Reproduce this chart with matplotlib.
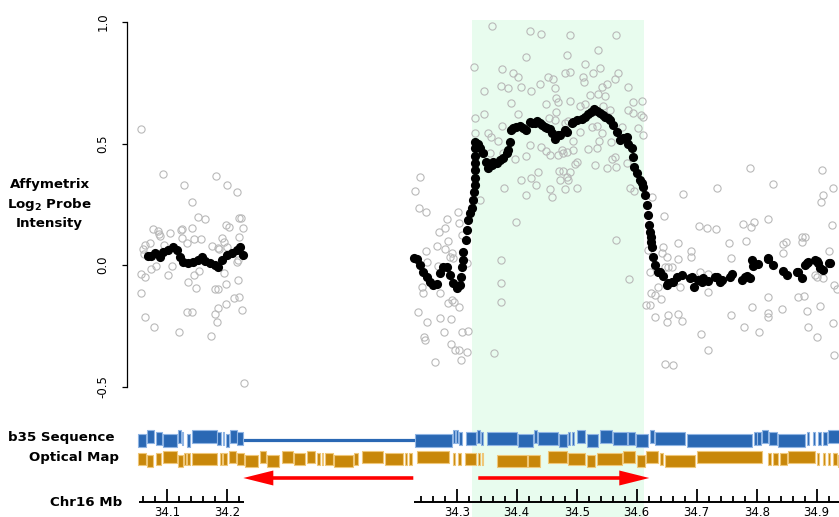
import numpy as np
import matplotlib
matplotlib.use("Agg")
import matplotlib.pyplot as plt
from matplotlib.patches import FancyArrow

plt.rcParams['font.family'] = ['DejaVu Sans']

# ---- probe data (Chr16 Mb, log2 intensity) ----
left_probes = [(34.0567, 0.56), (34.0939, 0.374), (34.128, 0.33), (34.182, 0.365), (34.2005, 0.33),
               (34.217, 0.30), (34.141, 0.26), (34.152, 0.198), (34.163, 0.188), (34.22, 0.195),
               (34.224, 0.195), (34.198, 0.165), (34.203, 0.158), (34.227, 0.154), (34.077, 0.147),
               (34.0855, 0.14), (34.087, 0.128), (34.088, 0.119), (34.105, 0.132), (34.123, 0.144),
               (34.1245, 0.148), (34.142, 0.152), (34.1255, 0.11), (34.1455, 0.106), (34.157, 0.106),
               (34.134, 0.092), (34.192, 0.112), (34.195, 0.096), (34.2205, 0.114), (34.0717, 0.089),
               (34.0633, 0.082), (34.0595, 0.065), (34.0617, 0.045), (34.0955, 0.084), (34.1745, 0.079),
               (34.1845, 0.069), (34.187, 0.066), (34.2005, 0.075), (34.0817, -0.003), (34.108, -0.004),
               (34.073, -0.018), (34.145, -0.041), (34.154, -0.023), (34.056, -0.038), (34.0633, -0.048),
               (34.102, -0.041), (34.195, -0.032), (34.217, 0.014), (34.219, 0.02), (34.1355, -0.071),
               (34.148, -0.093), (34.219, -0.062), (34.198, -0.077), (34.18, -0.099), (34.1855, -0.097),
               (34.0567, -0.114), (34.2117, -0.137), (34.22, -0.13), (34.198, -0.162), (34.1855, -0.178),
               (34.2245, -0.186), (34.134, -0.195), (34.141, -0.195), (34.18, -0.2), (34.0633, -0.213),
               (34.183, -0.236), (34.0788, -0.256), (34.12, -0.277), (34.1733, -0.293), (34.228, -0.484)]

right_probes = [(34.2388, 0.363), (34.2305, 0.305), (34.2372, 0.233), (34.2483, 0.219), (34.3027, 0.219),
                (34.2833, 0.188), (34.3043, 0.174), (34.2805, 0.151), (34.271, 0.137), (34.3083, 0.123),
                (34.285, 0.099), (34.2667, 0.078), (34.2483, 0.058), (34.2917, 0.048), (34.2888, 0.034),
                (34.2943, 0.028), (34.2805, 0.065), (34.25, 0.014), (34.2693, -0.004), (34.3167, 0.007),
                (34.2417, -0.089), (34.2443, -0.114), (34.2722, -0.117), (34.285, -0.158), (34.296, -0.151),
                (34.2917, -0.144), (34.3038, -0.172), (34.236, -0.195), (34.25, -0.233), (34.2722, -0.219),
                (34.29, -0.222), (34.3183, -0.27), (34.3083, -0.274), (34.246, -0.295), (34.2465, -0.309),
                (34.2793, -0.274), (34.2905, -0.325), (34.2972, -0.35), (34.3043, -0.35), (34.3167, -0.357),
                (34.2638, -0.398), (34.3072, -0.391),
                (34.3588, 0.984), (34.4217, 0.964), (34.441, 0.951), (34.416, 0.857), (34.3288, 0.816),
                (34.376, 0.807), (34.3938, 0.789), (34.4022, 0.772), (34.4522, 0.775), (34.4605, 0.764),
                (34.3743, 0.737), (34.3855, 0.73), (34.3455, 0.717), (34.4067, 0.734), (34.4243, 0.717),
                (34.4383, 0.745), (34.4633, 0.727), (34.466, 0.686), (34.4688, 0.67), (34.39, 0.665),
                (34.4493, 0.661), (34.466, 0.628), (34.4022, 0.62), (34.3455, 0.621), (34.33, 0.606),
                (34.4533, 0.606), (34.4633, 0.597), (34.3755, 0.572), (34.33, 0.542), (34.3522, 0.542),
                (34.3577, 0.528), (34.3688, 0.512), (34.4217, 0.494), (34.441, 0.487), (34.4493, 0.469),
                (34.455, 0.453), (34.33, 0.446), (34.355, 0.46), (34.3772, 0.46), (34.3967, 0.436),
                (34.416, 0.45), (34.4688, 0.453), (34.4355, 0.384), (34.47, 0.387), (34.4077, 0.35),
                (34.4243, 0.357), (34.4327, 0.329), (34.3788, 0.316), (34.416, 0.288), (34.455, 0.313),
                (34.4588, 0.281), (34.3383, 0.267), (34.3993, 0.178),
                (34.4888, 0.947), (34.5655, 0.947), (34.536, 0.885), (34.4833, 0.864), (34.5138, 0.826),
                (34.5388, 0.809), (34.4805, 0.789), (34.4888, 0.793), (34.5277, 0.789), (34.511, 0.775),
                (34.5127, 0.754), (34.5693, 0.791), (34.5638, 0.765), (34.5417, 0.734), (34.55, 0.744),
                (34.585, 0.734), (34.5222, 0.70), (34.536, 0.704), (34.5472, 0.695), (34.4888, 0.675),
                (34.5943, 0.67), (34.6093, 0.675), (34.5055, 0.656), (34.5138, 0.661), (34.5443, 0.656),
                (34.585, 0.638), (34.5943, 0.624), (34.6072, 0.617), (34.611, 0.61), (34.5555, 0.638),
                (34.486, 0.593), (34.4805, 0.583), (34.525, 0.569), (34.5333, 0.572), (34.575, 0.569),
                (34.6027, 0.562), (34.611, 0.535), (34.5055, 0.549), (34.5427, 0.542), (34.5377, 0.51),
                (34.4943, 0.51), (34.5572, 0.507), (34.5193, 0.476), (34.5333, 0.48), (34.475, 0.473),
                (34.4833, 0.466), (34.4777, 0.46), (34.4943, 0.473), (34.5638, 0.446), (34.5583, 0.436),
                (34.5, 0.425), (34.4972, 0.414), (34.5305, 0.412), (34.55, 0.398), (34.5655, 0.402),
                (34.5833, 0.418), (34.4777, 0.388), (34.4888, 0.384), (34.4722, 0.35), (34.486, 0.35),
                (34.4833, 0.363), (34.4805, 0.313), (34.5, 0.316), (34.5888, 0.316), (34.596, 0.305),
                (34.565, 0.103), (34.5872, -0.058), (34.3743, 0.022), (34.3743, -0.073), (34.3743, -0.151),
                (34.3617, -0.363), (34.6188, 0.062), (34.6217, -0.027), (34.6233, -0.117), (34.616, -0.165),
                (34.6217, -0.165), (34.63, -0.213),
                (34.7888, 0.398), (34.7333, 0.316), (34.6777, 0.292), (34.625, 0.279), (34.6455, 0.203),
                (34.7043, 0.162), (34.7167, 0.154), (34.7322, 0.147), (34.7767, 0.169), (34.7822, 0.099),
                (34.7543, 0.089), (34.6693, 0.092), (34.6433, 0.073), (34.6417, 0.048), (34.65, 0.034),
                (34.69, 0.059), (34.6905, 0.032), (34.6683, 0.025), (34.7572, 0.03), (34.6472, -0.007),
                (34.6527, -0.009), (34.6593, -0.009), (34.7055, -0.027), (34.7193, -0.037), (34.636, -0.092),
                (34.6722, -0.089), (34.7193, -0.112), (34.6305, -0.123), (34.64, -0.141), (34.6527, -0.206),
                (34.65, -0.233), (34.6693, -0.202), (34.675, -0.229), (34.7572, -0.206), (34.7788, -0.256),
                (34.7072, -0.285), (34.7193, -0.35), (34.6472, -0.407), (34.661, -0.412),
                (34.9093, 0.391), (34.8277, 0.333), (34.9277, 0.316), (34.911, 0.288), (34.9067, 0.26),
                (34.8193, 0.189), (34.7905, 0.158), (34.7955, 0.176), (34.925, 0.165), (34.8433, 0.086),
                (34.8488, 0.093), (34.8443, 0.051), (34.875, 0.114), (34.8805, 0.114), (34.875, 0.093),
                (34.921, 0.059), (34.8972, -0.041), (34.911, -0.055), (34.9, -0.051), (34.9293, -0.082),
                (34.9333, -0.1), (34.8183, -0.133), (34.7917, -0.172), (34.8683, -0.133), (34.8793, -0.128),
                (34.9055, -0.169), (34.8427, -0.181), (34.8833, -0.189), (34.8193, -0.199), (34.8193, -0.213),
                (34.9267, -0.237), (34.8038, -0.274), (34.885, -0.254), (34.901, -0.298), (34.9288, -0.37)]

# smoothed intensity (black)
left_smooth = [(34.0688, 0.035), (34.0728, 0.038), (34.08, 0.048), (34.0883, 0.034), (34.0938, 0.055),
               (34.1022, 0.062), (34.1095, 0.073), (34.1162, 0.062), (34.1217, 0.034), (34.1272, 0.014),
               (34.1355, 0.01), (34.1438, 0.014), (34.1522, 0.02), (34.1578, 0.034), (34.1633, 0.018),
               (34.1717, 0.01), (34.18, 0.0), (34.1855, -0.007), (34.1912, 0.02), (34.1995, 0.041),
               (34.2078, 0.048), (34.2162, 0.062), (34.2217, 0.075), (34.2272, 0.041)]

right_smooth = [(34.2288, 0.028), (34.2333, 0.023), (34.2388, 0.0), (34.2443, -0.027), (34.25, -0.048),
                (34.2555, -0.069), (34.261, -0.082), (34.2667, -0.08), (34.2722, -0.034), (34.2777, -0.01),
                (34.2833, -0.007), (34.2888, -0.041), (34.2943, -0.075), (34.3, -0.096), (34.3055, -0.082),
                (34.308, -0.048), (34.3088, -0.01), (34.3097, 0.02), (34.311, 0.055), (34.3155, 0.103),
                (34.3167, 0.144), (34.3183, 0.185), (34.3222, 0.215), (34.325, 0.233), (34.3277, 0.267),
                (34.3293, 0.30), (34.3297, 0.33), (34.3297, 0.36), (34.3297, 0.39), (34.33, 0.42),
                (34.33, 0.45), (34.3305, 0.48), (34.3308, 0.505), (34.3355, 0.50), (34.3388, 0.48),
                (34.3438, 0.46), (34.3493, 0.425), (34.3522, 0.398), (34.3583, 0.41), (34.3605, 0.425),
                (34.3667, 0.418), (34.3717, 0.432), (34.3772, 0.439), (34.3833, 0.46), (34.3855, 0.473),
                (34.3883, 0.507), (34.391, 0.556), (34.3943, 0.562), (34.3993, 0.569), (34.4055, 0.572),
                (34.4105, 0.562), (34.416, 0.555), (34.4217, 0.59), (34.425, 0.583), (34.43, 0.583),
                (34.4333, 0.594), (34.4383, 0.583), (34.4417, 0.576), (34.4467, 0.569), (34.45, 0.562),
                (34.455, 0.56), (34.4583, 0.542), (34.4633, 0.52), (34.4693, 0.535), (34.4722, 0.535),
                (34.4805, 0.556), (34.4833, 0.549), (34.4917, 0.583), (34.4943, 0.59), (34.5, 0.597),
                (34.5083, 0.60), (34.5138, 0.61), (34.5193, 0.62), (34.5238, 0.63), (34.5293, 0.64),
                (34.5338, 0.632), (34.5388, 0.624), (34.5443, 0.617), (34.5472, 0.61), (34.5527, 0.604),
                (34.5555, 0.597), (34.561, 0.576), (34.5667, 0.549), (34.5722, 0.514), (34.5777, 0.521),
                (34.5833, 0.528), (34.586, 0.50), (34.5917, 0.48), (34.5943, 0.446), (34.596, 0.405),
                (34.6, 0.377), (34.6055, 0.35), (34.6083, 0.336), (34.611, 0.322), (34.6138, 0.288),
                (34.6167, 0.247), (34.6193, 0.206), (34.621, 0.165), (34.6222, 0.137), (34.6233, 0.116),
                (34.6238, 0.096), (34.625, 0.075), (34.6277, 0.034), (34.6305, 0.0), (34.636, -0.027),
                (34.6388, -0.03), (34.6443, -0.045), (34.65, -0.082), (34.6522, -0.075), (34.6583, -0.069),
                (34.661, -0.069), (34.6667, -0.048), (34.675, -0.043), (34.6888, -0.052), (34.6917, -0.051),
                (34.6955, -0.089), (34.7027, -0.062), (34.7083, -0.069), (34.711, -0.055), (34.7193, -0.065),
                (34.7305, -0.048), (34.7343, -0.051), (34.7388, -0.069), (34.7417, -0.062), (34.7555, -0.05),
                (34.7583, -0.037), (34.775, -0.062), (34.7805, -0.048), (34.7833, -0.045), (34.7888, -0.055),
                (34.7917, 0.02), (34.7943, -0.004), (34.8027, 0.005), (34.8183, 0.027), (34.8193, 0.023),
                (34.8277, -0.002), (34.8443, -0.025), (34.85, -0.04), (34.8667, -0.027), (34.8693, -0.027),
                (34.875, -0.053), (34.8805, 0.0), (34.8833, 0.007), (34.886, 0.014), (34.8972, 0.02),
                (34.9, 0.016), (34.9027, 0.007), (34.9055, -0.014), (34.911, -0.02), (34.921, 0.007),
                (34.9222, 0.007)]

# region with gain (Chr16 Mb)
gain_region = (34.3255, 34.6117)

# b35 sequence fragments (Chr16 Mb start, end, stagger level)
b35_frags = [(34.0522, 34.0645, 2), (34.0672, 34.0783, 0), (34.0812, 34.0922, 1), (34.0928, 34.1162, 2),
             (34.1188, 34.1228, 0), (34.1245, 34.1272, 1), (34.1338, 34.1383, 2), (34.1412, 34.1828, 0),
             (34.1838, 34.1895, 1), (34.1928, 34.1955, 1), (34.1983, 34.2028, 2), (34.205, 34.2162, 0),
             (34.2172, 34.2272, 1),
             (34.2305, 34.2917, 2), (34.2943, 34.2972, 0), (34.2988, 34.3027, 0), (34.3043, 34.3083, 1),
             (34.3155, 34.3322, 1), (34.3343, 34.3388, 0), (34.34, 34.3443, 1), (34.351, 34.40, 1),
             (34.4027, 34.4277, 2), (34.4293, 34.4333, 0), (34.436, 34.4693, 1), (34.4705, 34.4833, 2),
             (34.486, 34.4888, 1), (34.4922, 34.4955, 1), (34.5, 34.5138, 0), (34.5167, 34.536, 2),
             (34.5388, 34.5583, 0), (34.561, 34.5833, 1), (34.586, 34.5972, 1), (34.5988, 34.6193, 2),
             (34.6222, 34.6288, 0), (34.6305, 34.6805, 1), (34.6833, 34.7927, 2), (34.7955, 34.80, 1),
             (34.801, 34.8067, 1), (34.8093, 34.8193, 0), (34.821, 34.8333, 1), (34.835, 34.8805, 2),
             (34.8833, 34.8877, 1), (34.8943, 34.8972, 1), (34.9027, 34.9067, 1), (34.911, 34.9167, 1),
             (34.9193, 34.9388, 0)]

# optical map fragments (map Mb, includes the insertion)
opt_frags = [(34.0522, 34.0645, 1), (34.0672, 34.0772, 2), (34.0812, 34.0895, 1), (34.0928, 34.1172, 0),
             (34.1188, 34.1262, 2), (34.1283, 34.1317, 1), (34.1338, 34.1383, 1), (34.1412, 34.1838, 1),
             (34.1883, 34.1912, 1), (34.1928, 34.1995, 1), (34.2038, 34.215, 0), (34.2172, 34.2283, 1),
             (34.23, 34.2522, 2), (34.255, 34.265, 0), (34.2672, 34.2872, 2), (34.2912, 34.3095, 0),
             (34.3117, 34.33, 1), (34.3328, 34.3467, 0), (34.3495, 34.355, 1), (34.3578, 34.3605, 1),
             (34.3633, 34.3772, 1), (34.3783, 34.4095, 2), (34.4117, 34.4188, 1), (34.4245, 34.4605, 0),
             (34.4633, 34.4928, 1), (34.4967, 34.4995, 1), (34.5038, 34.5078, 1),
             (34.5162, 34.5705, 0), (34.5772, 34.58, 1), (34.5855, 34.5895, 1), (34.5967, 34.615, 1),
             (34.6188, 34.6217, 1), (34.6245, 34.6272, 1), (34.6505, 34.6995, 2), (34.7022, 34.7217, 2),
             (34.7355, 34.7662, 0), (34.7688, 34.7967, 1), (34.7995, 34.8133, 2), (34.8162, 34.8578, 1),
             (34.8605, 34.88, 0), (34.8828, 34.8967, 2), (34.8983, 34.9188, 0), (34.9217, 34.9272, 1),
             (34.93, 34.98, 2), (34.9838, 35.0912, 0), (35.101, 35.1067, 1), (35.1095, 35.1188, 1),
             (35.1217, 35.1328, 1), (35.1355, 35.18, 0), (35.184, 35.1873, 1), (35.1938, 35.1967, 1),
             (35.2022, 35.205, 1), (35.2105, 35.2162, 1), (35.2188, 35.2383, 2)]

# orientation arrows (map Mb tail -> tip)
arrows = [(34.5105, 34.2272), (34.6188, 34.9038)]

# Chr16 axis
chr_segments = [(34.0533, 34.2283), (34.2288, 34.96)]
minor_ticks = [34.06, 34.08, 34.12, 34.14, 34.16, 34.18, 34.22,
               34.24, 34.26, 34.28, 34.32, 34.34, 34.36, 34.38, 34.42, 34.44, 34.46, 34.48,
               34.52, 34.54, 34.56, 34.58, 34.62, 34.64, 34.66, 34.68, 34.72, 34.74, 34.76, 34.78,
               34.82, 34.84, 34.86, 34.88, 34.92, 34.94]
major_ticks = [34.1, 34.2, 34.3, 34.4, 34.5, 34.6, 34.7, 34.8, 34.9]
major_labels = ["34.1", "34.2", "34.3", "34.4", "34.5", "34.6", "34.7", "34.8", "34.9"]

y_ticks = [-0.5, 0.0, 0.5, 1.0]
y_labels = ["-0.5", "0.0", "0.5", "1.0"]

INS_POS = 34.2285   # b35 position of the extra optical-map sequence
INS_LEN = 0.2828    # its length in Mb


def to_map(p):
    p = np.asarray(p, dtype=float)
    return np.where(p < INS_POS, p, p + INS_LEN)


BLUE, BLUE_EDGE = '#2a68b4', '#8fb4e3'
ORANGE, ORANGE_EDGE = '#c8870a', '#efc779'
GREEN = '#e8fcee'

W, H = 839, 517
fig = plt.figure(figsize=(W / 100, H / 100), dpi=100)
X0 = 34.1 - 167 / 600
X1 = 34.1 + (W - 167) / 600

ax = fig.add_axes([0, 0, 1, 1])
ax.set_xlim(X0, X1)
ax.set_ylim(-(H - 265) / 243, 265 / 243)
for s in ['top', 'right', 'bottom']:
    ax.spines[s].set_visible(False)
ax.spines['left'].set_position(('data', X0 + 127 / 600))
ax.spines['left'].set_bounds(-0.5, 1.0)
ax.spines['left'].set_linewidth(0.9)
ax.set_xticks([])
ax.set_yticks(y_ticks)
ax.set_yticklabels(y_labels)
ax.tick_params(axis='y', direction='out', length=3.8, width=0.9, labelsize=8.5, pad=9, labelrotation=90)
for lab in ax.get_yticklabels():
    lab.set_va('center')

ax.axvspan(*to_map(gain_region), ymin=0, ymax=(H - 20) / H, color=GREEN, lw=0, zorder=0)

for probes in (left_probes, right_probes):
    px, py = np.array(probes).T
    ax.plot(to_map(px), py, 'o', ms=5.2, mfc='none', mec='#b9b9b9', mew=0.8, zorder=2, clip_on=False)
for sm in (left_smooth, right_smooth):
    px, py = np.array(sm).T
    ax.plot(to_map(px), py, 'o', ms=6.6, color='black', mew=0, zorder=3)

# tracks / arrows / chromosome axis in pixel-like vertical units
axt = fig.add_axes([0, 0, 1, 1], sharex=ax)
axt.set_ylim(H, 0)
axt.axis('off')
axt.patch.set_alpha(0)

b35 = np.array(b35_frags)
left_end = b35[b35[:, 1] < INS_POS, 1].max()
right_start = b35[b35[:, 0] > INS_POS, 0].min()
axt.plot([left_end, to_map(right_start)], [439.5, 439.5], color=BLUE, lw=2.3, solid_capstyle='butt', zorder=1)
for frags, y0, fc, ec, shift in ((b35, 430, BLUE, BLUE_EDGE, True),
                                 (np.array(opt_frags), 450.5, ORANGE, ORANGE_EDGE, False)):
    for lvl in (0, 1, 2):
        f = frags[frags[:, 2] == lvl]
        st = to_map(f[:, 0]) if shift else f[:, 0]
        axt.broken_barh(list(zip(st, f[:, 1] - f[:, 0])), (y0 + 2 * lvl, 12.5),
                        facecolors=fc, edgecolors=ec, linewidth=0.8, zorder=2)

for tail, tip in arrows:
    axt.add_patch(FancyArrow(tail, 478, tip - tail, 0, width=3.6, head_width=15, head_length=0.05,
                             length_includes_head=True, color='#ff0000', lw=0))

for a, b in chr_segments:
    axt.plot(to_map([a, b]), [502, 502], color='black', lw=1.4, solid_capstyle='butt')
axt.vlines(to_map(minor_ticks), 495.5, 502, color='black', lw=1.3)
axt.vlines(to_map(major_ticks), 488.5, 502, color='black', lw=1.3)
for v, lab in zip(to_map(major_ticks), major_labels):
    axt.text(v, 505.5, lab, ha='center', va='top', fontsize=8.5)

bold = dict(fontweight='bold', fontsize=9.6)
fig.text(49.5 / W, 1 - 204 / H, "Affymetrix\nLog$_\\mathbf{2}$ Probe\nIntensity",
         ha='center', va='center', linespacing=1.4, **bold)
fig.text(115 / W, 1 - 437.5 / H, "b35 Sequence", ha='right', va='center', **bold)
fig.text(119 / W, 1 - 457.5 / H, "Optical Map", ha='right', va='center', **bold)
fig.text(122.5 / W, 1 - 502.5 / H, "Chr16 Mb", ha='right', va='center', **bold)

fig.savefig("out.png", dpi=100)
